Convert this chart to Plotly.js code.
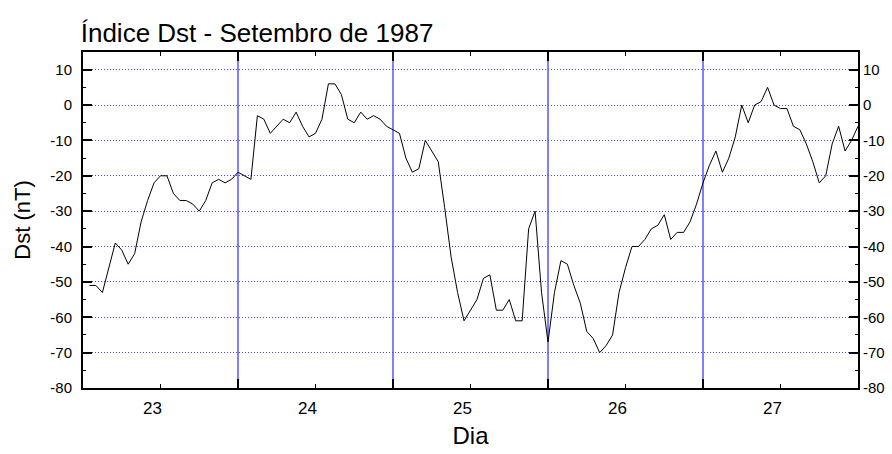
<!DOCTYPE html>
<html>
<head>
<meta charset="utf-8">
<script src="https://cdn.plot.ly/plotly-3.0.1.min.js"></script>
<style>html,body{margin:0;padding:0;background:#fff;}#chart{width:892px;height:454px;}</style>
</head>
<body>
<div id="chart"></div>
<script>
// Hourly Dst values (nT), 23-27 September 1987, hour 1..120
const dst = [
  -51,-51,-53,-46,-39,-41,-45,-42,-33,-27,-22,-20,-20,-25,-27,-27,-28,-30,-27,-22,-21,-22,-21,-19,
  -20,-21,-3,-4,-8,-6,-4,-5,-2,-6,-9,-8,-4,6,6,3,-4,-5,-2,-4,-3,-4,-6,-7,
  -8,-15,-19,-18,-10,-13,-16,-29,-43,-53,-61,-58,-55,-49,-48,-58,-58,-55,-61,-61,-35,-30,-53,-67,
  -53,-44,-45,-51,-56,-64,-66,-70,-68,-65,-53,-46,-40,-40,-38,-35,-34,-31,-38,-36,-36,-33,-28,-22,
  -17,-13,-19,-15,-9,0,-5,0,1,5,0,-1,-1,-6,-7,-11,-16,-22,-20,-11,-6,-13,-10,-6
];
const hours = dst.map((_, i) => i + 1);
const startDay = 22.5;
const dayTicks = [23, 24, 25, 26, 27];
const dayTickLabels = ["23", "24", "25", "26", "27"];
const dayDividers = [23.5, 24.5, 25.5, 26.5];
const dstTicks = [-80, -70, -60, -50, -40, -30, -20, -10, 0, 10];
const dstTickLabels = ["-80", "-70", "-60", "-50", "-40", "-30", "-20", "-10", "0", "10"];
const dstMinorTicks = [-75, -65, -55, -45, -35, -25, -15, -5, 5];

const x = hours.map(h => startDay + h / 24);

const FONT = "Liberation Sans, Arial, sans-serif";

const trace = {
  x: x, y: dst, type: "scatter", mode: "lines",
  line: {color: "#000000", width: 1},
  hoverinfo: "x+y", showlegend: false
};
const traceR = {x: [x[0]], y: [dst[0]], yaxis: "y2", mode: "markers",
  marker: {opacity: 0}, showlegend: false, hoverinfo: "skip"};

const shapes = dayDividers.map(d => ({
  type: "line", xref: "x", yref: "paper", x0: d, x1: d, y0: 0, y1: 1,
  line: {color: "#0000ff", width: 1}, layer: "below"
}));

const yCommon = {
  range: [-80, 15], tickvals: dstTicks, ticktext: dstTickLabels,
  ticks: "inside", ticklen: 9, tickwidth: 2, tickcolor: "#000",
  minor: {tickvals: dstMinorTicks, ticks: "inside", ticklen: 3, tickcolor: "#000", tickwidth: 1},
  showline: true, linecolor: "#000", linewidth: 2,
  tickfont: {family: FONT, size: 15, color: "#000"}, zeroline: false, fixedrange: true
};

const layout = {
  width: 892, height: 454,
  margin: {l: 83, r: 34, t: 52, b: 66},
  paper_bgcolor: "#ffffff", plot_bgcolor: "#ffffff",
  title: {text: "Índice Dst - Setembro de 1987", x: 0.0905, xanchor: "left", y: 0.927, yanchor: "middle",
          font: {family: FONT, size: 26, color: "#000"}},
  xaxis: {
    range: [22.5, 27.5], tickvals: dayTicks, ticktext: dayTickLabels,
    ticks: "inside", ticklen: 4, tickcolor: "#000", ticklabelshift: -8, ticklabelstandoff: 4,
    minor: {tick0: 23.5, dtick: 1, ticks: "inside", ticklen: 9, tickwidth: 2, tickcolor: "#000", showgrid: false},
    showline: true, linecolor: "#000", linewidth: 2, mirror: "allticks",
    showgrid: false, zeroline: false,
    tickfont: {family: FONT, size: 17, color: "#000"},
    title: {text: "Dia", font: {family: FONT, size: 24, color: "#000"}, standoff: 10}
  },
  yaxis: Object.assign({}, yCommon, {
    ticklabelstandoff: 6,
    showgrid: true, gridcolor: "#4848ff", griddash: "1px,2px", gridwidth: 1,
    title: {text: "Dst (nT)", font: {family: FONT, size: 22, color: "#000"}, standoff: 14}
  }),
  yaxis2: Object.assign({}, yCommon, {overlaying: "y", side: "right", showgrid: false}),
  shapes: shapes
};

Plotly.newPlot("chart", [trace, traceR], layout, {displayModeBar: false, staticPlot: true});
</script>
</body>
</html>
